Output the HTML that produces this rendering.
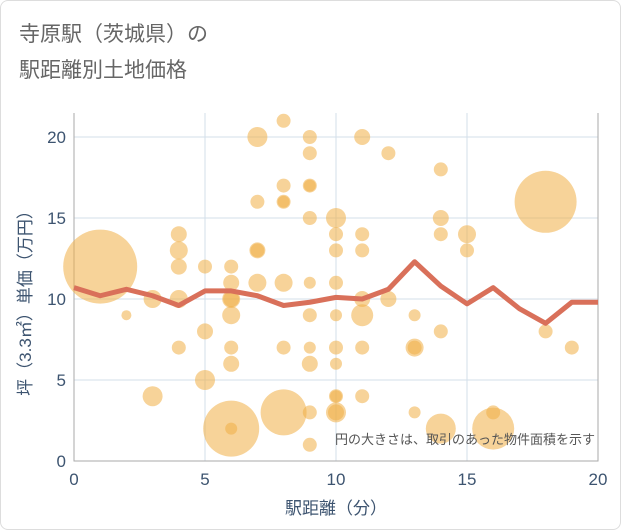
<!DOCTYPE html>
<html><head><meta charset="utf-8"><style>
body{margin:0;background:#fff;font-family:"Liberation Sans","Noto Sans CJK JP",sans-serif}
#wrap{position:relative;width:619px;height:528px;border:1px solid #ddd;border-radius:8px;overflow:hidden}
</style></head><body>
<div id="wrap">
<svg id="chart" width="621" height="530">
<text x="18" y="40" font-size="21" fill="#666">寺原駅（茨城県）の</text>
<text x="18" y="76" font-size="21" fill="#666">駅距離別土地価格</text>
</svg>
</div>
<script>
const lineX=[0,1,2,3,4,5,6,7,8,9,10,11,12,13,14,15,16,17,18,19,20];
const lineY=[10.7,10.2,10.6,10.2,9.6,10.5,10.5,10.2,9.6,9.8,10.1,10.0,10.6,12.3,10.8,9.7,10.7,9.4,8.5,9.8,9.8];
const bubX=[1,2,3,3,4,4,4,4,4,5,5,5,6,6,6,6,6,6,6,6,6,7,7,7,7,7,8,8,8,8,8,8,8,9,9,9,9,9,9,9,9,9,9,9,10,10,10,10,10,10,10,10,10,10,10,11,11,11,11,11,11,11,12,12,13,13,13,13,14,14,14,14,14,15,15,16,16,18,18,19];
const bubY=[12,9,10,4,14,13,12,10,7,12,8,5,12,11,10,10,9,7,6,2,2,20,16,13,13,11,21,17,16,16,11,7,3,20,19,17,17,15,11,9,7,6,3,1,15,14,13,11,9,7,6,4,4,3,3,20,14,13,10,9,7,4,19,10,9,7,7,3,18,15,14,8,2,14,13,3,2,16,8,7];
const bubR=[37,5,9,10,8,9,8,9,7,7,8,10,7,8,9,8,9,7,8,28,6,10,7,8,7,9,7,7,7,6,9,7,23,7,7,7,6,7,6,7,6,8,7,7,10,7,7,7,6,7,6,7,6,10,8,8,7,7,8,11,7,7,7,8,6,9,7,6,7,8,7,7,15,9,7,7,21,31,7,7];
const xTicks=[0,5,10,15,20];
const yTicks=[0,5,10,15,20];
const L=73,R=597,T=112,B=460;
const sx=v=>L+(v-0)/20*(R-L);
const sy=v=>B-v/20*(B-136);
const svg=document.getElementById('chart');
const NS='http://www.w3.org/2000/svg';
function mk(t,a){const e=document.createElementNS(NS,t);for(const k in a)e.setAttribute(k,a[k]);svg.appendChild(e);return e;}
xTicks.forEach(v=>{const g=mk('line',{x1:sx(v),x2:sx(v),y1:T,y2:B,stroke:'#d3dfea','stroke-width':1});


const t=mk('text',{x:sx(v),y:B+24,'font-size':17,fill:'#3d5470','text-anchor':'middle'});t.textContent=v;

});
yTicks.forEach(v=>{const g=mk('line',{x1:L,x2:R,y1:sy(v),y2:sy(v),stroke:'#d3dfea','stroke-width':1});


const t=mk('text',{x:L-8,y:sy(v)+6,'font-size':17,fill:'#3d5470','text-anchor':'end'});t.textContent=v;

});
const ax=mk('path',{d:`M${L} ${T}V${B}H${R}V${T}`,stroke:'#aaa',fill:'none','stroke-width':1});


bubX.forEach((x,i)=>{const c=mk('circle',{cx:sx(x),cy:sy(bubY[i]),r:bubR[i],fill:'rgba(240,175,70,0.55)'});

});
const p=mk('polyline',{points:lineX.map((x,i)=>sx(x)+','+sy(lineY[i])).join(' '),fill:'none',stroke:'#d9705a','stroke-width':5,'stroke-linejoin':'round'});


const n=mk('text',{x:594,y:443,'font-size':13,fill:'#555','text-anchor':'end'});n.textContent='円の大きさは、取引のあった物件面積を示す';


const xt=mk('text',{x:335,y:513,'font-size':17,fill:'#3d5470','text-anchor':'middle'});xt.textContent='駅距離（分）';


const yt=mk('text',{x:0,y:0,'font-size':17,fill:'#3d5470','text-anchor':'middle',transform:'translate(30,298) rotate(-90)'});yt.textContent='坪（3.3㎡）単価（万円）';


</script>
</body></html>
